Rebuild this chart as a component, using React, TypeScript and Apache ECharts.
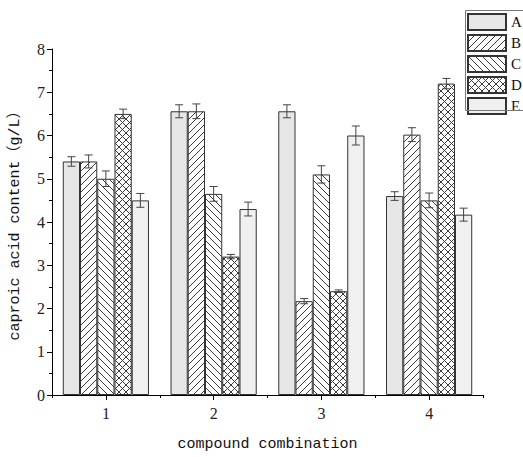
import React, { useEffect, useRef } from "react";
import * as echarts from "echarts";

const categories = ["1", "2", "3", "4"];
const seriesNames = ["A", "B", "C", "D", "E"];
const valuesA = [5.4, 6.56, 6.56, 4.6];
const valuesB = [5.4, 6.56, 2.17, 6.02];
const valuesC = [5.0, 4.65, 5.1, 4.5];
const valuesD = [6.5, 3.2, 2.4, 7.2];
const valuesE = [4.5, 4.3, 6.0, 4.17];
const errA = [0.11, 0.15, 0.15, 0.1];
const errB = [0.15, 0.17, 0.06, 0.16];
const errC = [0.18, 0.17, 0.2, 0.17];
const errD = [0.11, 0.05, 0.03, 0.12];
const errE = [0.16, 0.16, 0.22, 0.15];
const yTicks = [0, 1, 2, 3, 4, 5, 6, 7, 8];

const allValues = [valuesA, valuesB, valuesC, valuesD, valuesE];
const allErrs = [errA, errB, errC, errD, errE];

function makePattern(kind: "fwd" | "back" | "cross") {
  const s = 7;
  const c = document.createElement("canvas");
  c.width = s;
  c.height = s;
  const ctx = c.getContext("2d")!;
  ctx.fillStyle = "#ffffff";
  ctx.fillRect(0, 0, s, s);
  ctx.fillStyle = "#3a3a3a";
  for (let k = 0; k < s; k++) {
    if (kind === "fwd" || kind === "cross") ctx.fillRect(k, s - 1 - k, 1, 1);
    if (kind === "back" || kind === "cross") ctx.fillRect(k, k, 1, 1);
  }
  return { image: c, repeat: "repeat", imageWidth: s, imageHeight: s } as any;
}

export default function App() {
  const ref = useRef<HTMLDivElement>(null);
  useEffect(() => {
    const chart = echarts.init(ref.current!, null, { renderer: "svg" });
    const fills: any[] = [
      "#e6e6e6",
      makePattern("fwd"),
      makePattern("back"),
      makePattern("cross"),
      "#f0f0f0",
    ];
    const barSeries = seriesNames.map((name, i) => ({
      name,
      type: "bar",
      data: allValues[i],
      barGap: "0%",
      barCategoryGap: "20%",
      itemStyle: { color: fills[i], borderColor: "#333", borderWidth: 1 },
    }));
    const errSeries = seriesNames.map((name, i) => ({
      name: name + "-err",
      type: "custom",
      data: allValues[i].map((v, j) => [j, v, allErrs[i][j]]),
      encode: { x: 0, y: 1 },
      z: 5,
      renderItem: (params: any, api: any) => {
        const cat = api.value(0);
        const v = api.value(1);
        const e = api.value(2);
        const band = api.size([1, 0])[0];
        const bw = (band * 0.8) / 5;
        const off = (i - 2) * bw;
        const top = api.coord([cat, v + e]);
        const bot = api.coord([cat, v - e]);
        const x = top[0] + off;
        const cap = 4;
        const st = { stroke: "#444", lineWidth: 1 };
        return {
          type: "group",
          children: [
            { type: "line", shape: { x1: x, y1: top[1], x2: x, y2: bot[1] }, style: st },
            { type: "line", shape: { x1: x - cap, y1: top[1], x2: x + cap, y2: top[1] }, style: st },
            { type: "line", shape: { x1: x - cap, y1: bot[1], x2: x + cap, y2: bot[1] }, style: st },
          ],
        };
      },
    }));
    const axisLine = { show: true, lineStyle: { color: "#000", width: 1 } };
    chart.setOption({
      animation: false,
      backgroundColor: "#ffffff",
      grid: { left: 47, right: 40, top: 49, bottom: 58 },
      graphic: {
        elements: [
          {
            type: "rect",
            shape: { x: 465.5, y: 10.5, width: 80, height: 100 },
            style: { fill: "transparent", stroke: "#777", lineWidth: 1 },
            z: 100,
            silent: true,
          },
        ],
      },
      legend: {
        data: seriesNames,
        icon: "rect",
        orient: "vertical",
        left: 465,
        top: 10,
        padding: [3, 2, 2, 2],
        itemWidth: 38,
        itemHeight: 16,
        itemGap: 3,
        borderWidth: 0,
        textStyle: { fontFamily: "Liberation Serif", fontSize: 15, lineHeight: 15, color: "#111" },
      },
      xAxis: [
        {
          type: "category",
          data: categories,
          axisLine,
          axisTick: { show: true, alignWithLabel: true, length: 5, lineStyle: { color: "#000" } },
          axisLabel: { margin: 10, fontFamily: "Liberation Serif", fontSize: 16, color: "#222" },
          name: "compound combination",
          nameLocation: "middle",
          nameGap: 42,
          nameTextStyle: { fontFamily: "Liberation Mono", fontSize: 15, color: "#111" },
        },
        {
          type: "category",
          data: categories,
          position: "bottom",
          axisLine: { show: false },
          axisTick: { show: true, alignWithLabel: false, length: 3, lineStyle: { color: "#000" } },
          axisLabel: { show: false },
        },
      ],
      yAxis: {
        type: "value",
        min: yTicks[0],
        max: yTicks[yTicks.length - 1],
        interval: 1,
        axisLine,
        axisTick: { show: true, length: 5, lineStyle: { color: "#000" } },
        minorTick: { show: true, splitNumber: 2, length: 3, lineStyle: { color: "#000" } },
        splitLine: { show: false },
        axisLabel: { margin: 7, fontFamily: "Liberation Serif", fontSize: 16, color: "#222" },
        name: "caproic acid content（g/L）",
        nameLocation: "middle",
        nameGap: 29,
        nameTextStyle: { fontFamily: "Liberation Mono, Noto Sans CJK SC", fontSize: 15, color: "#111" },
      },
      series: [...barSeries, ...errSeries],
    });
    return () => chart.dispose();
  }, []);
  return (
    <div
      ref={ref}
      style={{ position: "fixed", left: 0, top: 0, width: 523, height: 457 }}
    />
  );
}
